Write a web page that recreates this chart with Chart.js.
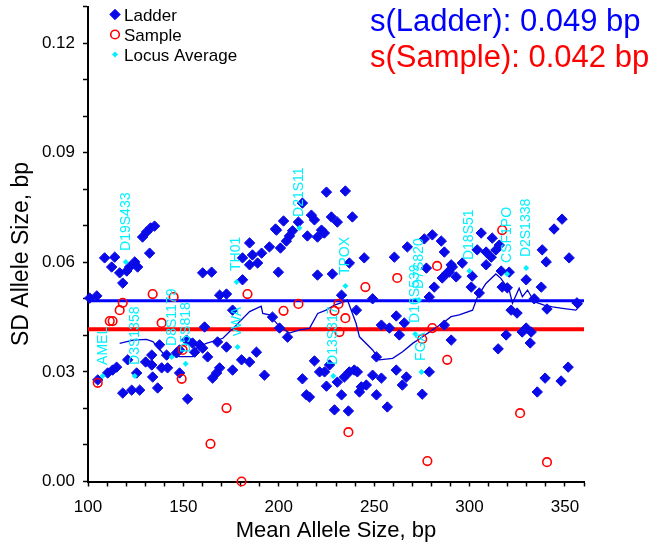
<!DOCTYPE html>
<html><head><meta charset="utf-8">
<script src="https://cdn.jsdelivr.net/npm/chart.js@4.4.1/dist/chart.umd.min.js"></script>
<style>html,body{margin:0;padding:0;background:#fff;}</style>
</head><body>
<canvas id="c" width="656" height="544" style="display:block;width:656px;height:544px"></canvas>
<script>
// ---------- data ----------
const ladderX = [
108.7,114.0,112.4,128.6,130.7,132.8,134.9,132.3,124.5,121.8,
126.0,116.6,120.3,118.2,100.9,104.6,160.1,164.8,169.0,172.6,
184.7,181.0,186.2,184.7,188.9,191.0,195.1,198.8,181.0,175.8,
196.7,161.1,172.6,167.9,151.7,154.8,158.5,155.9,160.1,148.0,
162.7,146.4,137.5,141.2,133.4,130.2,133.4,120.8,138.6,141.7,
148.0,125.5,133.9,105.1,110.3,112.9,115.0,169.0,167.4,165.3,
175.8,180.5,184.7,188.3,192.5,118.2,122.9,127.1,136.5,152.2,
225.0,234.9,212.4,217.1,218.7,227.6,230.7,238.6,202.5,198.3,
210.3,207.2,205.6,204.0,200.9,215.0,222.4,220.3,223.9,244.8,
237.0,199.8,220.3,228.1,260.6,267.4,276.3,280.5,285.2,286.8,
291.0,277.4,281.5,285.7,288.3,249.2,232.9,240.7,261.6,265.8,
253.8,278.9,258.0,263.2,200.4,204.6,251.2,218.7,221.4,224.0,
226.6,212.4,225.0,230.7,234.4,237.0,239.6,241.2,249.2,253.8,
243.3,245.9,242.3,261.6,266.9,264.8,278.9,214.5,216.1,232.9,
251.2,256.9,275.2,229.2,236.5,306.1,311.9,315.6,304.0,308.7,
311.4,308.7,313.9,296.2,290.4,289.4,293.0,301.4,316.6,320.8,
317.1,319.8,300.9,305.1,329.7,337.6,333.9,321.8,324.9,340.6,
356.3,344.3,348.5,338.1,340.2,352.2,286.8,290.4,315.0,319.2,
327.6,329.7,332.3,331.8,351.7,339.6,348.0,335.5];
const ladderY = [
0.0612,0.0614,0.0587,0.0669,0.0683,0.0694,0.0699,0.0625,0.0601,0.0587,
0.0587,0.0571,0.0576,0.0543,0.0502,0.0508,0.0571,0.0573,0.0510,0.0513,
0.0653,0.0612,0.0620,0.0593,0.0598,0.0625,0.0642,0.0688,0.0552,0.0469,
0.0450,0.0423,0.0368,0.0382,0.0387,0.0379,0.0374,0.0354,0.0365,0.0360,
0.0341,0.0352,0.0374,0.0346,0.0346,0.0327,0.0319,0.0333,0.0311,0.0311,
0.0297,0.0297,0.0286,0.0278,0.0297,0.0305,0.0313,0.0311,0.0297,0.0283,
0.0305,0.0333,0.0327,0.0354,0.0291,0.0242,0.0250,0.0250,0.0256,0.0226,
0.0792,0.0795,0.0762,0.0729,0.0716,0.0724,0.0710,0.0724,0.0713,0.0691,
0.0710,0.0686,0.0672,0.0658,0.0639,0.0672,0.0688,0.0669,0.0680,0.0612,
0.0598,0.0573,0.0565,0.0568,0.0614,0.0642,0.0664,0.0675,0.0658,0.0628,
0.0587,0.0584,0.0532,0.0557,0.0571,0.0500,0.0510,0.0469,0.0453,0.0434,
0.0428,0.0505,0.0420,0.0401,0.0420,0.0395,0.0341,0.0330,0.0300,0.0300,
0.0319,0.0281,0.0261,0.0272,0.0286,0.0300,0.0305,0.0300,0.0291,0.0283,
0.0259,0.0264,0.0245,0.0305,0.0286,0.0264,0.0300,0.0237,0.0231,0.0237,
0.0237,0.0204,0.0239,0.0196,0.0193,0.0680,0.0666,0.0647,0.0634,0.0628,
0.0614,0.0593,0.0634,0.0598,0.0593,0.0573,0.0560,0.0562,0.0576,0.0573,
0.0532,0.0530,0.0532,0.0516,0.0552,0.0532,0.0500,0.0469,0.0461,0.0472,
0.0489,0.0691,0.0718,0.0634,0.0601,0.0612,0.0428,0.0387,0.0363,0.0401,
0.0409,0.0420,0.0409,0.0379,0.0313,0.0283,0.0275,0.0245];

const sampleX = [133.9,144.9,183.6,118.2,116.6,111.4,112.9,138.6,149.6,149.1,
105.1,172.6,164.2,180.5,245.4,262.1,283.0,210.3,202.5,231.3,
229.2,234.9,236.5,277.9,288.3,280.5,231.8,317.1,326.5,340.6,275.2];
const sampleY = [0.0513,0.0505,0.0513,0.0489,0.0469,0.0439,0.0439,0.0434,0.0360,0.0281,
0.0270,0.0201,0.0103,0.0000,0.0532,0.0557,0.0590,0.0486,0.0467,0.0486,
0.0467,0.0447,0.0135,0.0056,0.0333,0.0420,0.0409,0.0688,0.0187,0.0053,0.0390];

const locusNames = ['AMEL','D3S1358','D19S433','D8S1179','D5S818','vWA','TH01','D21S11',
'D13S317','TPOX','D16S539','D7S820','FGA','D18S51','CSF1PO','D2S1338'];
const locusX = [107.7,124.5,119.8,143.9,151.2,178.4,177.9,210.8,228.6,234.9,271.5,273.5,274.8,299.9,319.7,329.7];
const locusY = [0.0289,0.0289,0.0601,0.0341,0.0322,0.0368,0.0546,0.0694,0.0289,0.0535,0.0404,0.0497,0.0300,0.0576,0.0568,0.0584];

const avgX = [116.6,123.6,130.6,134.0,139.3,148.0,155.0,156.8,162.0,170.7,
177.7,184.7,190.8,191.6,195.1,200.4,205.6,210.9,216.1,220.4,
224.8,229.2,234.4,236.0,240.5,242.3,249.2,252.7,259.7,264.9,
270.2,275.4,280.6,285.9,290.3,294.6,301.6,304.2,308.6,313.8,
316.4,320.8,322.5,326.0,327.7,330.4,333.9,339.1,343.5,348.7,355.7,359.2];
const avgY = [0.0378,0.0387,0.0389,0.0383,0.0351,0.0342,0.0342,0.0365,0.0378,0.0392,
0.0428,0.0465,0.0480,0.0460,0.0456,0.0424,0.0406,0.0415,0.0419,0.0460,
0.0469,0.0483,0.0492,0.0497,0.0433,0.0396,0.0360,0.0333,0.0337,0.0355,
0.0378,0.0396,0.0415,0.0433,0.0451,0.0456,0.0469,0.0506,0.0542,0.0568,
0.0556,0.0524,0.0488,0.0529,0.0506,0.0524,0.0492,0.0483,0.0478,0.0474,0.0469,0.0488];

const sLadder = 0.0495;
const sSample = 0.0417;
const lineRangeX = [100, 360];
const headerTexts = ['s(Ladder): 0.049 bp', 's(Sample): 0.042 bp'];
const legendLabels = ['Ladder', 'Sample', 'Locus Average'];
const xTickLabels = [100, 150, 200, 250, 300, 350];
const yTickLabels = ['0.00', '0.03', '0.06', '0.09', '0.12'];

// ---------- style ----------
const FONT = "'Liberation Sans', Arial, Helvetica, sans-serif";
const BLUE = '#0a0ae8';
const RED = '#ff0000';
const CYAN = '#00f0ff';

const pts = (xs, ys) => xs.map((x, i) => ({x: x, y: ys[i]}));

function marker(ctx, style, r, x, y, fill, stroke, bw) {
  ctx.save();
  ctx.fillStyle = fill; ctx.strokeStyle = stroke; ctx.lineWidth = bw;
  if (Chart.helpers && Chart.helpers.drawPoint) {
    Chart.helpers.drawPoint(ctx, {pointStyle: style, radius: r, borderWidth: bw, rotation: 0}, x, y);
  } else {
    ctx.beginPath();
    if (style === 'circle') ctx.arc(x, y, r, 0, Math.PI * 2);
    else { ctx.moveTo(x - r, y); ctx.lineTo(x, y - r); ctx.lineTo(x + r, y); ctx.lineTo(x, y + r); ctx.closePath(); }
    ctx.fill(); if (bw > 0) ctx.stroke();
  }
  ctx.restore();
}

const annot = {
  id: 'annot',
  afterDatasetsDraw(chart) {
    const ctx = chart.ctx, xs = chart.scales.x, ys = chart.scales.y;
    ctx.save();
    ctx.fillStyle = CYAN;
    ctx.font = '14px ' + FONT;
    ctx.textAlign = 'left';
    ctx.textBaseline = 'middle';
    locusNames.forEach((n, i) => {
      const px = xs.getPixelForValue(locusX[i]);
      const py = ys.getPixelForValue(locusY[i]);
      ctx.save();
      ctx.translate(px, py - 11);
      ctx.rotate(-Math.PI / 2);
      ctx.fillText(n, 0, 0);
      ctx.restore();
    });
    ctx.restore();
  },
  afterDraw(chart) {
    const ctx = chart.ctx;
    ctx.save();
    ctx.fillStyle = '#000';
    ctx.font = '23px ' + FONT;
    ctx.textAlign = 'center';
    ctx.textBaseline = 'middle';
    ctx.translate(22, 254);
    ctx.rotate(-Math.PI / 2);
    ctx.fillText('SD Allele Size, bp', 0, 0);
    ctx.restore();

    ctx.save();
    ctx.font = '31px ' + FONT;
    ctx.textAlign = 'left';
    ctx.textBaseline = 'alphabetic';
    ctx.fillStyle = '#0000ff';
    ctx.fillText(headerTexts[0], 370, 31);
    ctx.fillStyle = RED;
    ctx.fillText(headerTexts[1], 370, 67);
    ctx.restore();

    ctx.save();
    marker(ctx, 'rectRot', 5.2, 115, 14.5, BLUE, BLUE, 1);
    marker(ctx, 'circle', 4.3, 115, 34.5, 'rgba(0,0,0,0)', RED, 1.6);
    marker(ctx, 'rectRot', 3, 115, 54.5, CYAN, CYAN, 0);
    ctx.fillStyle = '#000';
    ctx.font = '17px ' + FONT;
    ctx.textAlign = 'left';
    ctx.textBaseline = 'alphabetic';
    ctx.fillText(legendLabels[0], 124, 20.7);
    ctx.fillText(legendLabels[1], 124, 40.7);
    ctx.fillText(legendLabels[2], 124, 60.7);
    ctx.restore();
  }
};

new Chart(document.getElementById('c'), {
  type: 'scatter',
  data: {
    datasets: [
      { label: 'Locus Average', data: pts(locusX, locusY), order: 0,
        pointStyle: 'rectRot', pointRadius: 3, pointBorderWidth: 0,
        backgroundColor: CYAN, borderColor: CYAN, clip: false },
      { label: 'Sample', data: pts(sampleX, sampleY), order: 1,
        pointStyle: 'circle', pointRadius: 4.3, pointBorderWidth: 1.6,
        backgroundColor: 'rgba(0,0,0,0)', borderColor: RED, clip: false },
      { label: 'Ladder', data: pts(ladderX, ladderY), order: 2,
        pointStyle: 'rectRot', pointRadius: 5.2, pointBorderWidth: 1,
        backgroundColor: BLUE, borderColor: BLUE, clip: false },
      { type: 'line', label: 'avg', data: pts(avgX, avgY), order: 3,
        borderColor: '#0000d0', borderWidth: 1.3, pointRadius: 0, tension: 0, fill: false },
      { type: 'line', label: 'sSample', data: pts(lineRangeX, [sSample, sSample]), order: 4,
        borderColor: RED, borderWidth: 4, pointRadius: 0, fill: false },
      { type: 'line', label: 'sLadder', data: pts(lineRangeX, [sLadder, sLadder]), order: 5,
        borderColor: '#0000ff', borderWidth: 3, pointRadius: 0, fill: false }
    ]
  },
  options: {
    responsive: false,
    animation: false,
    events: [],
    layout: { padding: { left: 0, right: 72, top: 6.5, bottom: 0 } },
    plugins: { legend: { display: false }, tooltip: { enabled: false }, title: { display: false } },
    scales: {
      x: {
        type: 'linear', min: 100, max: 360, position: 'bottom',
        afterFit: s => { s.height = 62.5; s.paddingLeft = 0; s.paddingRight = 0; },
        ticks: {
          stepSize: 10, autoSkip: false, maxRotation: 0, minRotation: 0, padding: 11,
          color: '#000', font: { size: 17, family: FONT },
          callback: v => xTickLabels.includes(v) ? String(v) : ''
        },
        grid: { drawOnChartArea: false, drawTicks: true, tickLength: 5, tickColor: '#000', tickWidth: 1.5 },
        border: { display: true, color: '#000', width: 2 },
        title: { display: true, text: 'Mean Allele Size, bp', color: '#000',
          font: { size: 22, family: FONT }, padding: { top: 0, bottom: 0 } }
      },
      y: {
        type: 'linear', min: 0, max: 0.13, position: 'left',
        afterFit: s => { s.width = 88; s.paddingTop = 0; s.paddingBottom = 0; },
        ticks: {
          stepSize: 0.01, autoSkip: false, padding: 8,
          color: '#000', font: { size: 17, family: FONT },
          callback: v => { const t = v.toFixed(2); return yTickLabels.includes(t) ? t : ''; }
        },
        grid: { drawOnChartArea: false, drawTicks: true, tickLength: 5, tickColor: '#000', tickWidth: 1.5 },
        border: { display: true, color: '#000', width: 2 },
        title: { display: false }
      }
    }
  },
  plugins: [annot]
});
</script>
</body></html>
